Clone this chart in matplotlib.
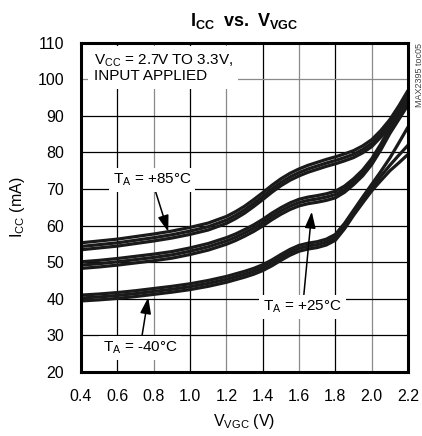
import matplotlib
matplotlib.use("Agg")
import matplotlib.pyplot as plt
from matplotlib import font_manager

# narrow sans if it exists, else plain Liberation
names = {f.name for f in font_manager.fontManager.ttflist}
base = 'Liberation Sans Narrow' if 'Liberation Sans Narrow' in names else 'Liberation Sans'
plt.rcParams['font.family'] = [base, 'DejaVu Sans']
plt.rcParams['mathtext.fontset'] = 'custom'
plt.rcParams['mathtext.rm'] = base
plt.rcParams['mathtext.bf'] = base + ':bold'

# V_VGC (V)
vgc = [0.4, 0.5, 0.6, 0.7, 0.8, 0.9, 1.0, 1.1, 1.2, 1.25, 1.3, 1.35, 1.4, 1.45, 1.5, 1.55, 1.6, 1.65,
       1.7, 1.75, 1.8, 1.85, 1.9, 1.95, 2.0, 2.05, 2.1, 2.15, 2.2]

# I_CC (mA), three supply voltages per temperature
t85_hi = [55.3, 55.8, 56.3, 57.0, 57.7, 58.5, 59.5, 60.7, 62.5, 63.8, 65.3, 67.1, 69.0, 71.0, 72.8, 74.3, 75.5, 76.5,
          77.3, 78.1, 78.8, 79.6, 80.5, 81.8, 83.5, 86.0, 89.0, 92.8, 97.0]
t85_mid = [54.3, 54.8, 55.3, 56.0, 56.7, 57.5, 58.5, 59.7, 61.5, 62.8, 64.3, 66.1, 68.0, 70.0, 71.8, 73.3, 74.5, 75.5,
           76.3, 77.1, 77.8, 78.6, 79.5, 80.8, 82.5, 85.0, 88.0, 91.8, 96.0]
t85_lo = [53.4, 53.9, 54.4, 55.1, 55.8, 56.6, 57.6, 58.8, 60.6, 61.9, 63.4, 65.2, 67.1, 69.1, 70.9, 72.4, 73.6, 74.6,
          75.4, 76.2, 76.9, 77.7, 78.6, 79.9, 81.6, 84.2, 87.2, 91.0, 95.0]

t25_hi = [50.1, 50.5, 51.0, 51.6, 52.2, 52.9, 53.9, 55.1, 56.7, 57.7, 58.9, 60.2, 61.7, 63.4, 64.9, 66.2, 67.2, 67.8,
          68.2, 68.7, 69.4, 70.8, 72.8, 75.2, 78.3, 82.3, 86.8, 90.9, 95.0]
t25_mid = [49.2, 49.6, 50.1, 50.7, 51.3, 52.0, 53.0, 54.2, 55.8, 56.8, 58.0, 59.3, 60.8, 62.5, 64.0, 65.3, 66.3, 66.9,
           67.3, 67.8, 68.5, 69.9, 72.0, 74.4, 77.5, 81.5, 86.0, 90.0, 94.0]
t25_lo = [48.3, 48.7, 49.2, 49.8, 50.4, 51.1, 52.1, 53.3, 54.9, 55.9, 57.1, 58.4, 59.9, 61.6, 63.1, 64.4, 65.4, 66.0,
          66.4, 66.9, 67.6, 69.1, 71.2, 73.6, 76.7, 80.7, 85.2, 89.1, 93.0]

tm40_hi = [41.0, 41.3, 41.7, 42.2, 42.8, 43.4, 44.1, 45.0, 46.1, 46.8, 47.5, 48.3, 49.3, 50.6, 52.1, 53.5, 54.6, 55.2,
           55.6, 56.3, 57.6, 60.6, 64.2, 67.8, 71.3, 74.8, 78.5, 82.7, 87.0]
tm40_mid = [40.2, 40.5, 40.9, 41.4, 42.0, 42.6, 43.3, 44.2, 45.3, 46.0, 46.7, 47.5, 48.5, 49.8, 51.3, 52.7, 53.8, 54.4,
            54.8, 55.5, 56.8, 59.8, 63.5, 66.9, 70.3, 73.5, 76.5, 79.3, 82.0]
tm40_lo = [39.4, 39.7, 40.1, 40.6, 41.2, 41.8, 42.5, 43.4, 44.5, 45.2, 45.9, 46.7, 47.7, 49.0, 50.5, 51.9, 53.0, 53.6,
           54.0, 54.7, 56.0, 59.1, 62.8, 66.2, 69.5, 72.3, 75.0, 77.2, 79.5]

xticks = [0.4, 0.6, 0.8, 1.0, 1.2, 1.4, 1.6, 1.8, 2.0, 2.2]
yticks = [20, 30, 40, 50, 60, 70, 80, 90, 100, 110]

fig = plt.figure(figsize=(4.22, 4.36), dpi=100)
ax = fig.add_axes([0.192, 0.147, 0.775, 0.755])
ax.set_xlim(0.4, 2.2)
ax.set_ylim(20, 110)

# grid: verticals alternate black / gray
for i, x in enumerate(xticks[1:-1]):
    ax.axvline(x, color='black' if i % 2 == 0 else '#8a8a8a', lw=0.9, zorder=1)
for y in yticks[1:-1]:
    ax.axhline(y, color='#8a8a8a' if y == 100 else 'black', lw=0.9, zorder=1)

for curve in [t85_hi, t85_mid, t85_lo, t25_hi, t25_mid, t25_lo, tm40_hi, tm40_mid, tm40_lo]:
    ax.plot(vgc, curve, color='#1a1a1a', lw=2.3, solid_capstyle='butt', solid_joinstyle='round', zorder=3)

ax.set_xticks(xticks)
ax.set_xticklabels(['%.1f' % v for v in xticks])
ax.set_yticks(yticks)
ax.tick_params(length=0, pad=12, labelsize=11.5)
for s in ax.spines.values():
    s.set_linewidth(2.2)
    s.set_zorder(5)

ax.set_xlabel(r'V$_{\mathregular{VGC}}$ (V)', fontsize=11.5, labelpad=6)
ax.set_ylabel(r'I$_{\mathregular{CC}}$ (mA)', fontsize=11.5, labelpad=8)
ax.set_title(r'$\mathbf{I_{CC}}$  $\mathbf{vs.}$ $\mathbf{V_{VGC}}$', fontsize=13, pad=12)

ax.text(0.47, 107.3, 'V$_{\\mathregular{CC}}$ = 2.7V TO 3.3V,\nINPUT APPLIED', fontsize=11,
        va='top', ha='left', linespacing=1.0, bbox=dict(boxstyle='square,pad=0.35', fc='white', ec='none'), zorder=4)

box = dict(boxstyle='square,pad=0.25', fc='white', ec='none')
arrow = dict(arrowstyle='-|>,head_length=0.9,head_width=0.3', color='black', lw=1.1, shrinkA=0, shrinkB=0)
ax.annotate('T$_{\\mathregular{A}}$ = +85°C', xy=(0.88, 58.3), xytext=(0.79, 72.5), fontsize=11,
            ha='center', va='center', bbox=box, arrowprops=arrow, zorder=4)
ax.annotate('T$_{\\mathregular{A}}$ = +25°C', xy=(1.67, 63.8), xytext=(1.62, 37.8), fontsize=11,
            ha='center', va='center', bbox=box, arrowprops=arrow, zorder=4)
ax.annotate('T$_{\\mathregular{A}}$ = -40°C', xy=(0.77, 40.4), xytext=(0.725, 26.6), fontsize=11,
            ha='center', va='center', bbox=box, arrowprops=arrow, zorder=4)

fig.text(0.993, 0.828, 'MAX2395 toc05', rotation=90, fontsize=6.5, color='#444444', ha='center', va='center')

fig.savefig('out.png', dpi=100)
